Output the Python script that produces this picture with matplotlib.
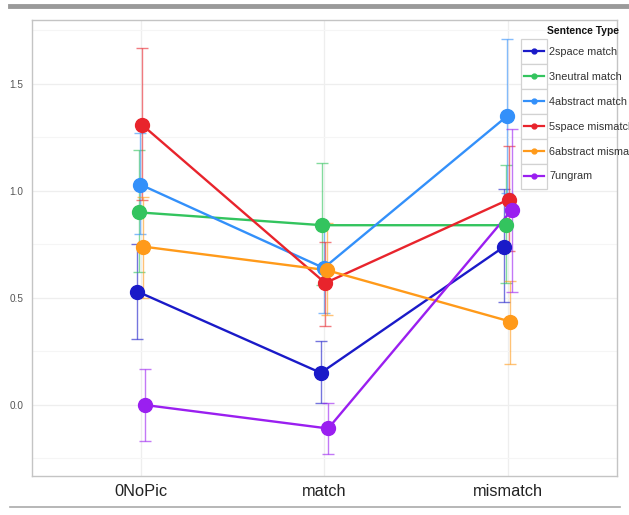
import matplotlib
matplotlib.use("Agg")
import matplotlib.pyplot as plt
from matplotlib.lines import Line2D
from matplotlib.patches import Rectangle
from matplotlib.legend_handler import HandlerLine2D
import numpy as np

plt.rcParams["font.family"] = ["Liberation Sans", "DejaVu Sans"]

categories = ["0NoPic", "match", "mismatch"]
series_names = ["2space match", "3neutral match", "4abstract match",
                "5space mismatch", "6abstract mismatch", "7ungram"]
colors = ["#1a1ac8", "#33c45e", "#3390fa", "#e8242c", "#ff9a1a", "#9a1ff0"]

means_2space = [0.53, 0.15, 0.74]
lo_2space = [0.31, 0.01, 0.48]
hi_2space = [0.75, 0.30, 1.01]

means_3neutral = [0.90, 0.84, 0.84]
lo_3neutral = [0.62, 0.56, 0.57]
hi_3neutral = [1.19, 1.13, 1.12]

means_4abstract = [1.03, 0.64, 1.35]
lo_4abstract = [0.80, 0.43, 0.99]
hi_4abstract = [1.27, 0.85, 1.71]

means_5space = [1.31, 0.57, 0.96]
lo_5space = [0.96, 0.37, 0.72]
hi_5space = [1.67, 0.76, 1.21]

means_6abstract = [0.74, 0.63, 0.39]
lo_6abstract = [0.50, 0.42, 0.19]
hi_6abstract = [0.97, 0.85, 0.58]

means_7ungram = [0.00, -0.11, 0.91]
lo_7ungram = [-0.17, -0.23, 0.53]
hi_7ungram = [0.17, 0.01, 1.29]

y_ticks = [0.0, 0.5, 1.0, 1.5]

all_means = [means_2space, means_3neutral, means_4abstract, means_5space, means_6abstract, means_7ungram]
all_lo = [lo_2space, lo_3neutral, lo_4abstract, lo_5space, lo_6abstract, lo_7ungram]
all_hi = [hi_2space, hi_3neutral, hi_4abstract, hi_5space, hi_6abstract, hi_7ungram]

fig = plt.figure(figsize=(6.29, 5.15), dpi=100)
ax = fig.add_axes([32/629, 39/515, 585/629, 456/515])

x = np.arange(len(categories))
dodge = np.linspace(-0.02, 0.02, len(series_names))
for i, name in enumerate(series_names):
    m = np.array(all_means[i]); lo = np.array(all_lo[i]); hi = np.array(all_hi[i])
    xs = x + dodge[i]
    ax.errorbar(xs, m, yerr=[m - lo, hi - m], fmt="none", ecolor=colors[i],
                elinewidth=1.0, capsize=4.5, capthick=1.0, alpha=0.6, zorder=2)
    ax.plot(xs, m, color=colors[i], lw=1.7, zorder=3)
    ax.plot(xs, m, "o", color=colors[i], ms=10, zorder=4, label=name)

ax.set_xlim(-0.595, 2.595)
ax.set_ylim(-0.332, 1.799)
ax.set_xticks(x)
ax.set_xticklabels(categories, fontsize=11.8, color="#222222")
ax.set_yticks(y_ticks)
ax.set_yticklabels([f"{v:.1f}" for v in y_ticks], fontsize=7.2, color="#555555")
ax.set_yticks([-0.25, 0.25, 0.75, 1.25, 1.75], minor=True)
ax.tick_params(axis="both", which="both", length=0)
ax.tick_params(axis="x", pad=6)
ax.tick_params(axis="y", pad=6)
ax.grid(True, which="major", color="#eeeeee", lw=0.9)
ax.grid(True, which="minor", axis="y", color="#f5f5f5", lw=0.8)
ax.set_axisbelow(True)
for s in ax.spines.values():
    s.set_color("#c4c4c4")
    s.set_linewidth(1.0)


class BoxHandler(HandlerLine2D):
    def create_artists(self, legend, orig_handle, xdescent, ydescent, width, height, fontsize, trans):
        rect = Rectangle((-xdescent, -ydescent), width, height, facecolor="white",
                         edgecolor="#d2d2d2", lw=0.9, transform=trans)
        yc = height / 2 - ydescent
        ln = Line2D([-xdescent + width * 0.12, -xdescent + width * 0.88], [yc, yc],
                    color=orig_handle.get_color(), lw=1.6, transform=trans)
        mk = Line2D([-xdescent + width / 2], [yc], marker="o", ms=3.5,
                    color=orig_handle.get_color(), transform=trans)
        return [rect, ln, mk]


handles = [Line2D([], [], color=c) for c in colors]
leg = fig.legend(handles, series_names, loc="upper left",
                 bbox_to_anchor=(521/629, 1 - 39/515),
                 frameon=False, fontsize=7.8, handlelength=2.4, handleheight=3.17,
                 labelspacing=0.0, handletextpad=0.2, borderpad=0.0, borderaxespad=0.0,
                 handler_map={Line2D: BoxHandler()})
for t in leg.get_texts():
    t.set_color("#333333")

fig.text(547/629, 1 - 31/515, "Sentence Type", fontsize=7.4, fontweight="bold",
         ha="left", va="center", color="#111111")

fig.add_artist(Line2D([10/629, 1.0], [1 - 6/515, 1 - 6/515], color="#9a9a9a", lw=3.5))
fig.add_artist(Line2D([10/629, 620/629], [1 - 507/515, 1 - 507/515], color="#aaaaaa", lw=1.2))

fig.savefig("out.png", dpi=100)
